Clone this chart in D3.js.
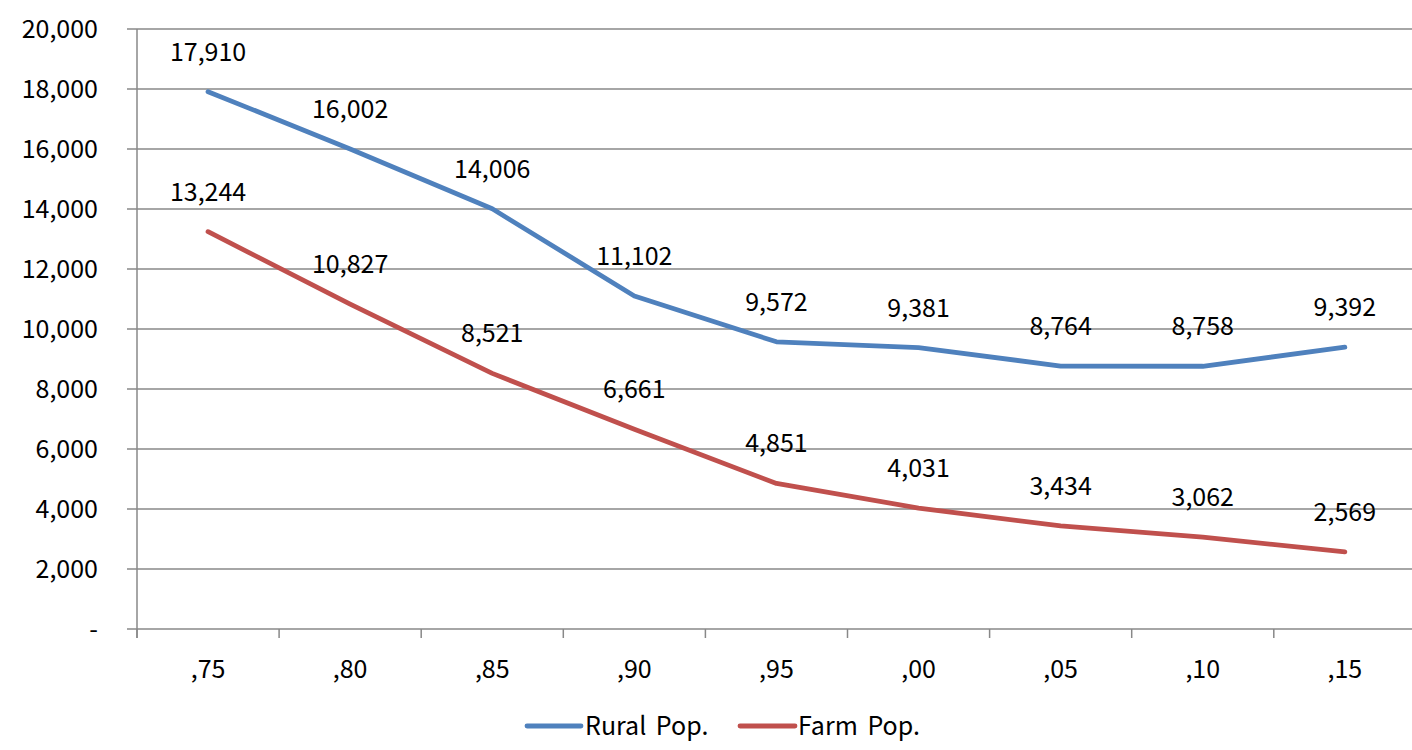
<!DOCTYPE html>
<html><head><meta charset="utf-8">
<script src="https://cdn.jsdelivr.net/npm/d3@7"></script>
<style>body{margin:0;background:#fff;}text{font-family:"Noto Sans CJK KR","Noto Sans",sans-serif;fill:#000;}</style>
</head><body>
<svg id="c" width="1412" height="750"></svg>
<script>
const categories = [",75", ",80", ",85", ",90", ",95", ",00", ",05", ",10", ",15"];
const ruralPop = [17910, 16002, 14006, 11102, 9572, 9381, 8764, 8758, 9392];
const farmPop = [13244, 10827, 8521, 6661, 4851, 4031, 3434, 3062, 2569];
const yTicks = [0, 2000, 4000, 6000, 8000, 10000, 12000, 14000, 16000, 18000, 20000];
const seriesNames = ["Rural Pop.", "Farm Pop."];
const colors = ["#4F81BD", "#C0504D"];

(function(){
const svg = d3.select("#c");
const pLeft = 137, bandW = 142.1, pTop = 29, pBottom = 629;
const fs = 25;
const x = d3.scaleBand().domain(categories).range([pLeft, pLeft + bandW * categories.length]);
const y = d3.scaleLinear().domain([0, 20000]).range([pBottom, pTop]);
const fmt = d3.format(",");

svg.append("g").selectAll("line").data(yTicks).join("line")
  .attr("x1", pLeft - 10).attr("x2", 1412)
  .attr("y1", d => y(d)).attr("y2", d => y(d))
  .attr("stroke", "#888").attr("stroke-width", 1.5);
svg.append("line").attr("x1", pLeft).attr("x2", pLeft).attr("y1", pTop).attr("y2", pBottom + 9)
  .attr("stroke", "#888").attr("stroke-width", 1.5);
const xt = categories.map((c, i) => pLeft + bandW * i).concat([pLeft + bandW * categories.length]);
svg.append("g").selectAll("line").data(xt).join("line")
  .attr("x1", d => d).attr("x2", d => d).attr("y1", pBottom).attr("y2", pBottom + 9)
  .attr("stroke", "#888").attr("stroke-width", 1.5);
svg.append("g").selectAll("text").data(yTicks).join("text")
  .attr("x", 98).attr("y", d => y(d) + 8.5).attr("text-anchor", "end")
  .attr("font-size", fs).text(d => d === 0 ? "-" : fmt(d));
svg.append("g").selectAll("text").data(categories).join("text")
  .attr("x", d => x(d) + x.bandwidth() / 2).attr("y", 678).attr("text-anchor", "middle")
  .attr("font-size", fs).text(d => d);

const line = d3.line().x((d, i) => x(categories[i]) + x.bandwidth() / 2).y(d => y(d));
[ruralPop, farmPop].forEach((s, k) => {
  svg.append("path").datum(s).attr("d", line).attr("fill", "none")
    .attr("stroke", colors[k]).attr("stroke-width", 4.8).attr("stroke-linejoin", "round").attr("stroke-linecap", "round");
  svg.append("g").selectAll("text").data(s).join("text")
    .attr("x", (d, i) => x(categories[i]) + x.bandwidth() / 2).attr("y", d => y(d) - 31)
    .attr("text-anchor", "middle").attr("font-size", fs).text(d => fmt(d));
});

const lg = [{x1: 527, x2: 581, tx: 585}, {x1: 740, x2: 795, tx: 798}];
lg.forEach((p, k) => {
  svg.append("line").attr("x1", p.x1).attr("x2", p.x2).attr("y1", 726).attr("y2", 726)
    .attr("stroke", colors[k]).attr("stroke-width", 4.8).attr("stroke-linecap", "round");
  svg.append("text").attr("x", p.tx).attr("y", 735).attr("font-size", fs)
    .attr("word-spacing", 4).text(seriesNames[k]);
});
})();
</script>
</body></html>
